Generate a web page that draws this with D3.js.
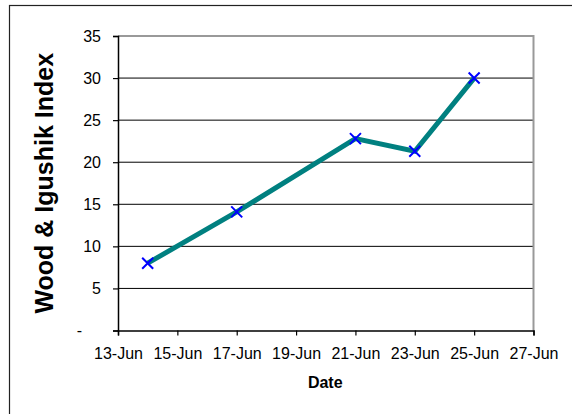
<!DOCTYPE html>
<html><head><meta charset="utf-8">
<script src="https://cdn.jsdelivr.net/npm/d3@7"></script>
<style>
body{margin:0;background:#fff;}
svg{display:block;font-family:"Liberation Sans",Arial,sans-serif;}
</style></head>
<body>
<svg id="c" width="572" height="414"></svg>
<script>
const dates = ["2004-06-14","2004-06-17","2004-06-21","2004-06-23","2004-06-25"];
const values = [8.0, 14.1, 22.8, 21.3, 30.0];
const xTickDates = ["2004-06-13","2004-06-15","2004-06-17","2004-06-19","2004-06-21","2004-06-23","2004-06-25","2004-06-27"];
const yTicks = [0,5,10,15,20,25,30,35];
const yTitle = "Wood & Igushik Index";
const xTitle = "Date";

const parse = d3.utcParse("%Y-%m-%d");
const data = dates.map((d,i)=>({date:parse(d), value:values[i]}));
const svg = d3.select("#c");
const L=118, R=533.5, T=36, B=330.5;

// outer frame
svg.append("rect").attr("x",9.5).attr("y",5.5).attr("width",700).attr("height",600)
  .attr("fill","none").attr("stroke","#222").attr("stroke-width",1.2);

const x = d3.scaleUtc().domain([parse(xTickDates[0]), parse(xTickDates[xTickDates.length-1])]).range([L,R]);
const y = d3.scaleLinear().domain([0,35]).range([B,T]);

// gridlines
svg.append("g").selectAll("line").data(yTicks.filter(v=>v>0 && v<35)).join("line")
  .attr("x1",L).attr("x2",R).attr("y1",d=>y(d)).attr("y2",d=>y(d))
  .attr("stroke","#000").attr("stroke-width",1);
// plot border top & right (gray)
svg.append("path").attr("d",`M${L},${T}H${R}V${B}`).attr("fill","none").attr("stroke","#999").attr("stroke-width",2);

// y axis
const yAxis = svg.append("g").attr("transform",`translate(${L},0)`)
  .call(d3.axisLeft(y).tickValues(yTicks).tickSize(5).tickPadding(12).tickFormat(d=>d===0?"-":d));
yAxis.select(".domain").attr("stroke","#000").attr("stroke-width",1.5);
yAxis.selectAll(".tick line").attr("stroke","#000").attr("stroke-width",1.2);
yAxis.selectAll(".tick text").attr("font-size",16).attr("fill","#000")
  .attr("font-family","'Liberation Sans',Arial,sans-serif");
yAxis.selectAll(".tick text").filter(d=>d===0).attr("x",-36);

// x axis
const xAxis = svg.append("g").attr("transform",`translate(0,${B})`)
  .call(d3.axisBottom(x).tickValues(xTickDates.map(parse)).tickSize(5).tickPadding(12).tickFormat(d3.utcFormat("%d-%b")));
xAxis.select(".domain").attr("stroke","#000").attr("stroke-width",1.5);
xAxis.selectAll(".tick line").attr("stroke","#000").attr("stroke-width",1.2);
xAxis.selectAll(".tick text").attr("font-size",16).attr("fill","#000")
  .attr("font-family","'Liberation Sans',Arial,sans-serif");

// line
svg.append("path").datum(data)
  .attr("d",d3.line().x(d=>x(d.date)).y(d=>y(d.value)))
  .attr("fill","none").attr("stroke","#008080").attr("stroke-width",5).attr("stroke-linejoin","miter");

// markers
const s=5.5;
svg.append("g").selectAll("path").data(data).join("path")
  .attr("d",d=>{const cx=x(d.date), cy=y(d.value);
    return `M${cx-s},${cy-s}L${cx+s},${cy+s}M${cx-s},${cy+s}L${cx+s},${cy-s}`;})
  .attr("stroke","#0000ff").attr("stroke-width",2).attr("fill","none");

// titles
svg.append("text").attr("x",(L+R)/2-0.5).attr("y",388).attr("text-anchor","middle")
  .attr("font-size",16).attr("font-weight","bold").text(xTitle);
svg.append("text").attr("transform",`translate(53,${(T+B)/2}) rotate(-90)`).attr("text-anchor","middle")
  .attr("font-size",25).attr("font-weight","bold").text(yTitle);
</script>
</body></html>
